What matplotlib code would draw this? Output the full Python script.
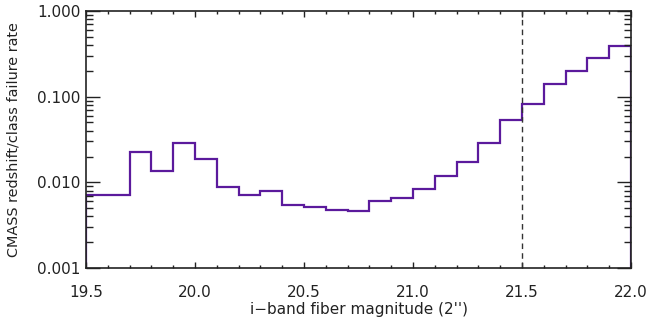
import numpy as np
import matplotlib
matplotlib.use("Agg")
import matplotlib.pyplot as plt
from matplotlib.ticker import FixedLocator, LogLocator, NullFormatter, MultipleLocator

# Bin edges (i-band fiber magnitude) and failure rate per bin
bin_edges = [19.5, 19.6, 19.7, 19.8, 19.9, 20.0, 20.1, 20.2, 20.3, 20.4, 20.5,
             20.6, 20.7, 20.8, 20.9, 21.0, 21.1, 21.2, 21.3, 21.4, 21.5,
             21.6, 21.7, 21.8, 21.9, 22.0]
failure_rate = [0.0072, 0.0071, 0.0225, 0.0135, 0.0286, 0.0185, 0.0088, 0.0072,
                0.0079, 0.0054, 0.0052, 0.0047, 0.0046, 0.0060, 0.0065, 0.0084,
                0.0117, 0.0175, 0.0290, 0.0536, 0.083, 0.139, 0.200, 0.284, 0.388]
mag_limit = 21.5
x_ticks = [19.5, 20.0, 20.5, 21.0, 21.5, 22.0]
x_tick_labels = ["19.5", "20.0", "20.5", "21.0", "21.5", "22.0"]
y_ticks = [0.001, 0.01, 0.1, 1.0]
y_tick_labels = ["0.001", "0.010", "0.100", "1.000"]

plt.rcParams['font.family'] = ['DejaVu Sans']
fig = plt.figure(figsize=(6.49, 3.2), dpi=100)
ax = fig.add_axes([86/649, 1-268/320, (631-86)/649, (268-11)/320])

ax.stairs(failure_rate, bin_edges, color="#5b1a9c", linewidth=1.6)
ax.axvline(mag_limit, color="#333333", linestyle=(0, (4, 3)), linewidth=1.0)

ax.set_yscale("log")
ax.set_xlim(19.5, 22.0)
ax.set_ylim(0.001, 1.0)

ax.xaxis.set_major_locator(FixedLocator(x_ticks))
ax.set_xticklabels(x_tick_labels)
ax.xaxis.set_minor_locator(MultipleLocator(0.1))
ax.yaxis.set_major_locator(FixedLocator(y_ticks))
ax.set_yticklabels(y_tick_labels)
ax.yaxis.set_minor_locator(LogLocator(base=10, subs=np.arange(2, 10)))
ax.yaxis.set_minor_formatter(NullFormatter())

ax.tick_params(which="both", direction="in", top=True, right=True,
               labelsize=11, colors="#222222", width=1.0)
ax.tick_params(axis="x", which="major", length=4, pad=12)
ax.tick_params(axis="x", which="minor", length=2)
ax.tick_params(axis="y", which="major", length=10, pad=4)
ax.tick_params(axis="y", which="minor", length=5)
for s in ax.spines.values():
    s.set_linewidth(1.2)
    s.set_color("#222222")

ax.set_xlabel("i\u2212band fiber magnitude (2'')", fontsize=11, color="#222222", labelpad=2)
ax.set_ylabel("CMASS redshift/class failure rate", fontsize=10.4, color="#222222", labelpad=12)

fig.savefig("out.png", dpi=100)
